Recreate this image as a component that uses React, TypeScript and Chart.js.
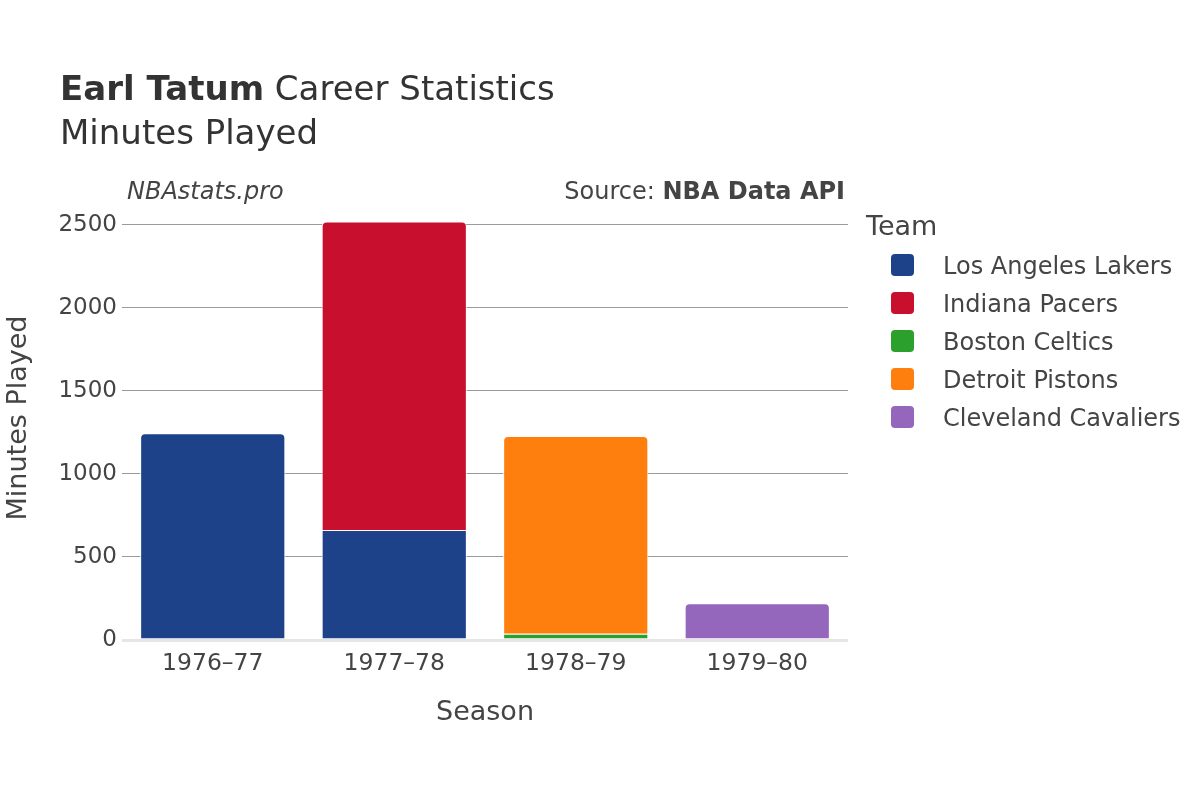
import React, { useEffect, useRef } from "react";
import { Chart, registerables } from "chart.js";

Chart.register(...registerables);

const seasons = ["1976–77", "1977–78", "1978–79", "1979–80"];
const teamNames = ["Los Angeles Lakers", "Indiana Pacers", "Boston Celtics", "Detroit Pistons", "Cleveland Cavaliers"];
const teamColors = ["#1d428a", "#c8102e", "#2ca02c", "#ff7f0e", "#9467bd"];
const lakers = [1245, 663, null, null];
const pacers = [null, 1858, null, null];
const celtics = [null, null, 38, null];
const pistons = [null, null, 1190, null];
const cavaliers = [null, null, null, 222];
const yTicks = [0, 500, 1000, 1500, 2000, 2500];
const seriesValues = [lakers, pacers, celtics, pistons, cavaliers];

const FONT = '"DejaVu Sans", sans-serif';
const TEXT = "#444";

function topDatasetAt(i: number): number {
  let top = -1;
  seriesValues.forEach((arr, d) => {
    if (arr[i] !== null && arr[i] !== undefined) top = d;
  });
  return top;
}

const decorPlugin = {
  id: "decor",
  afterDraw(chart: any) {
    const ctx = chart.ctx as CanvasRenderingContext2D;
    ctx.save();
    ctx.textBaseline = "alphabetic";
    // Title
    ctx.fillStyle = "#333";
    ctx.textAlign = "left";
    ctx.font = `bold 34px ${FONT}`;
    ctx.fillText("Earl Tatum", 60, 100);
    const w = ctx.measureText("Earl Tatum").width;
    ctx.font = `34px ${FONT}`;
    ctx.fillText(" Career Statistics", 60 + w, 100);
    ctx.fillText("Minutes Played", 60, 144);

    // annotations
    ctx.fillStyle = TEXT;
    ctx.font = `italic 24px ${FONT}`;
    ctx.fillText("NBAstats.pro", 127, 199);
    ctx.font = `bold 24px ${FONT}`;
    const wb = ctx.measureText("NBA Data API").width;
    ctx.fillText("NBA Data API", 845 - wb, 199);
    ctx.font = `24px ${FONT}`;
    const wn = ctx.measureText("Source: ").width;
    ctx.fillText("Source: ", 845 - wb - wn, 199);

    // axis titles
    ctx.font = `27px ${FONT}`;
    ctx.textAlign = "center";
    ctx.fillText("Season", 485, 720);
    ctx.save();
    ctx.translate(26, 418);
    ctx.rotate(-Math.PI / 2);
    ctx.fillText("Minutes Played", 0, 0);
    ctx.restore();

    // legend
    ctx.textAlign = "left";
    ctx.font = `27px ${FONT}`;
    ctx.fillText("Team", 866, 235);
    ctx.font = `24px ${FONT}`;
    teamNames.forEach((name, i) => {
      const cy = 265 + i * 38;
      ctx.fillStyle = teamColors[i];
      ctx.beginPath();
      (ctx as any).roundRect(891, cy - 11, 23, 22, 4);
      ctx.fill();
      ctx.fillStyle = TEXT;
      ctx.fillText(name, 943, cy + 8.5);
    });
    ctx.restore();
  },
};

export default function App() {
  const ref = useRef<HTMLCanvasElement>(null);
  useEffect(() => {
    if (!ref.current) return;
    const chart = new Chart(ref.current, {
      type: "bar",
      data: {
        labels: seasons,
        datasets: teamNames.map((name, d) => ({
          label: name,
          data: seriesValues[d] as any,
          backgroundColor: teamColors[d],
          borderColor: "#ffffff",
          borderWidth: 1,
          borderSkipped: "start" as any,
          borderRadius: (c: any) =>
            topDatasetAt(c.dataIndex) === c.datasetIndex
              ? { topLeft: 5, topRight: 5, bottomLeft: 0, bottomRight: 0 }
              : { topLeft: 0, topRight: 0, bottomLeft: 0, bottomRight: 0 },
          barPercentage: 0.8,
          categoryPercentage: 1,
        })),
      },
      plugins: [decorPlugin],
      options: {
        responsive: false,
        animation: false,
        layout: { padding: { top: 200, right: 352, left: 0, bottom: 0 } },
        plugins: { legend: { display: false }, title: { display: false }, tooltip: { enabled: false } },
        scales: {
          x: {
            stacked: true,
            grid: { display: false },
            border: { display: false },
            ticks: { font: { family: FONT, size: 23.5 }, color: TEXT, padding: 2 },
            afterFit: (s: any) => {
              s.height = 160;
            },
          },
          y: {
            stacked: true,
            min: 0,
            max: 2650,
            border: { display: false },
            grid: {
              drawTicks: false,
              color: (c: any) => (c.tick && c.tick.value === 0 ? "#e6e6e6" : "#9a9a9a"),
              lineWidth: (c: any) => (c.tick && c.tick.value === 0 ? 3 : 1),
            },
            ticks: {
              font: { family: FONT, size: 23 },
              color: TEXT,
              padding: 5,
              stepSize: 500,
              includeBounds: false,
              callback: (v: any) => String(v),
            },
            afterBuildTicks: (s: any) => {
              s.ticks = yTicks.map((v) => ({ value: v }));
            },
            afterFit: (s: any) => {
              s.width = 122;
            },
          },
        },
      },
    });
    return () => chart.destroy();
  }, []);
  return (
    <div style={{ position: "absolute", left: 0, top: 0, width: 1200, height: 800, background: "#fff" }}>
      <canvas ref={ref} width={1200} height={800} />
    </div>
  );
}
